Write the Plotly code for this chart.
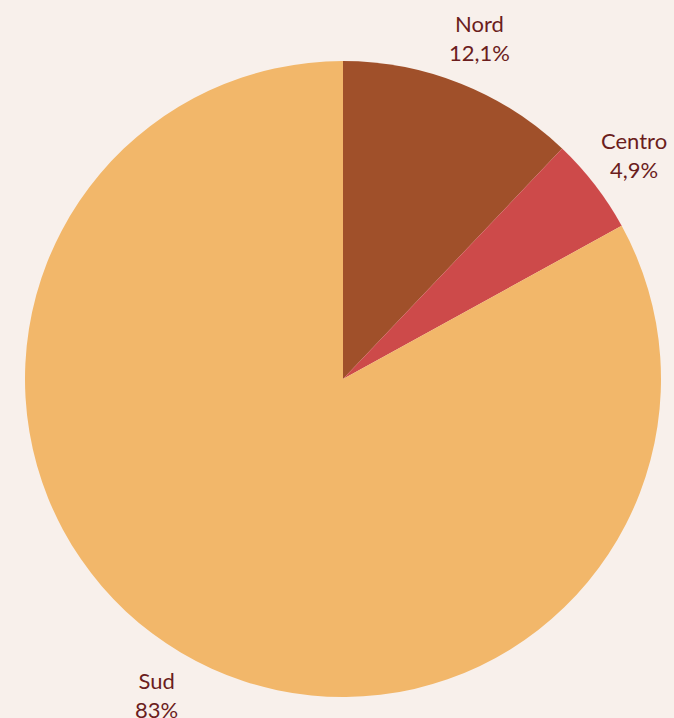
import math
import plotly.graph_objects as go

# Distribution by area (percent)
areas = ["Nord", "Centro", "Sud"]
shares = [12.1, 4.9, 83]
colors = ["#a0502a", "#cd4a4a", "#f2b76a"]

label_color = "#6b1d1d"
label_font = dict(color=label_color, size=22, family="Lato, Noto Sans, sans-serif")

fig = go.Figure(
    go.Pie(
        labels=areas,
        values=shares,
        textinfo="none",
        sort=False,
        direction="clockwise",
        rotation=0,
        marker=dict(colors=colors, line=dict(width=0)),
        hoverinfo="label+percent",
        showlegend=False,
        automargin=False,
        domain=dict(x=[0, 1], y=[0, 1]),
    )
)

# Outside labels placed along each slice's mid-angle (clockwise from 12 o'clock)
label_radius = 0.577  # in paper units; pie radius is 0.5
total = sum(shares)
start = 0.0
for area, share in zip(areas, shares):
    mid = (start + share / 2) / total * 2 * math.pi
    start += share
    text = f"{area}<br>{share:g}%".replace(".", ",")
    fig.add_annotation(
        x=0.5 + label_radius * math.sin(mid),
        y=0.5 + label_radius * math.cos(mid),
        xref="paper",
        yref="paper",
        text=text,
        showarrow=False,
        xanchor="center",
        yanchor="middle",
        align="center",
        font=label_font,
    )

fig.update_layout(
    width=674,
    height=718,
    margin=dict(l=25, r=13, t=61, b=21),
    paper_bgcolor="#f8f0eb",
    plot_bgcolor="#f8f0eb",
    showlegend=False,
)

fig.write_html("out.html")
